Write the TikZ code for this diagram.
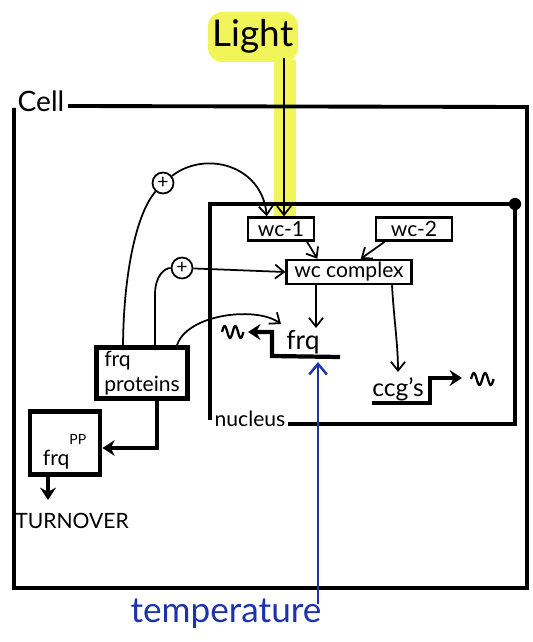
\documentclass[tikz,border=0pt]{standalone}
\usepackage{fontspec}
\setmainfont{Lato}
\usetikzlibrary{arrows.meta,calc}
\definecolor{hilite}{RGB}{242,245,90}
\definecolor{penblue}{RGB}{30,50,170}
\begin{document}
\begin{tikzpicture}[x=0.02cm,y=-0.02cm,
  wall/.style={line width=2.2pt},
  box/.style={draw,line width=1.4pt,inner sep=1pt,font=\fontsize{12}{13}\selectfont},
  thickbox/.style={draw,line width=2.8pt,inner sep=2pt,font=\fontsize{12}{14}\selectfont,align=left},
  pen/.style={line width=1pt},
  arr/.style={-{Straight Barb[length=5pt,width=8pt]},line width=1pt},
  fatarr/.style={-{Stealth[length=7pt,width=9pt]},line width=2.4pt},
  plus/.style={draw,circle,line width=1pt,inner sep=0pt,minimum size=0.42cm,font=\fontsize{11}{11}\selectfont},
  squig/.style={line width=1.3pt},
  lbl/.style={inner sep=1pt}]
\useasboundingbox (0,0) rectangle (533,642);

% Light highlight
\fill[hilite,rounded corners=8pt] (208,12) rectangle (298,62);
\fill[hilite] (274,60) rectangle (296,216);
\node[lbl,font=\fontsize{21}{21}\selectfont] (light) at (253,36) {Light};

% Cell
\node[lbl,font=\fontsize{16}{16}\selectfont] (cell) at (41,101) {Cell};
\draw[wall] (68,106) -- (527,107) -- (527,588) -- (14,588) -- (14,108);

% Nucleus
\node[lbl,font=\fontsize{12}{12}\selectfont] (nuc) at (250,419) {nucleus};
\draw[wall] (288,424) -- (515,424) -- (515,204) -- (210,204) -- (210,420);
\fill (515,204) circle (3.5pt);

% boxes
\node[box,minimum width=1.32cm,minimum height=0.46cm] (wc1) at (281,229) {wc-1};
\node[box,minimum width=1.52cm,minimum height=0.46cm] (wc2) at (414,229) {wc-2};
\node[box,minimum width=2.5cm,minimum height=0.48cm] (wcc) at (349,272) {wc complex};
\node[thickbox,minimum width=1.82cm,minimum height=0.94cm] (fp) at (142,373) {frq\\proteins};
\node[thickbox,minimum width=1.4cm,minimum height=1.26cm,text depth=0pt] (fpp) at (65,443) {\raisebox{-8pt}{frq}\textsuperscript{PP}};
\node[lbl,font=\fontsize{12}{12}\selectfont] (turn) at (72,521) {TURNOVER};

% Light arrow
\coordinate (lightend) at (284,58);
\draw[arr] (lightend) -- (lightend |- wc1.north);

% wc-1, wc-2 to complex
\draw[arr] ($(wc1.south)+(26,0)$) -- ($(wcc.north west)+(32,0)$);
\draw[arr] ($(wc2.south west)+(10,0)$) -- ($(wcc.north east)+(-52,0)$);

% plus paths
\node[plus] (p1) at (163,183) {+};
\node[plus] (p2) at (182,268) {+};
\coordinate (fpA) at (123,350);
\coordinate (fpB) at (155,350);
\coordinate (fpC) at (176,350);
\draw[pen] (fpA) .. controls (123,280) and (135,215) .. (p1);
\draw[arr] (p1) .. controls (205,150) and (262,165) .. ($(wc1.north west)+(20,0)$);
\draw[pen] (fpB) -- (155,295) .. controls (155,275) and (165,268) .. (p2);
\draw[arr] (p2) -- (wcc.west);

% frq gene
\coordinate (frqin) at (281,324);
\draw[arr] (fpC) .. controls (180,315) and (255,305) .. (frqin);
\node[lbl,font=\fontsize{15}{15}\selectfont] (frqt) at (303,342) {frq};
\coordinate (fg1) at (340,357);
\coordinate (fg2) at (272,356);
\coordinate (fg3) at (272,332);
\coordinate (fg4) at (248,332);
\draw[fatarr] (fg1) -- (fg2) -- (fg3) -- (fg4);
\draw[squig] plot[domain=0:4*pi,samples=50] ({222+\x*1.7},{332-6*sin(\x r)});
\draw[arr] (wcc.south -| 316,0) -- (316,328);

% ccg's
\node[lbl,font=\fontsize{14}{14}\selectfont] (ccg) at (398,389) {ccg's};
\coordinate (cg1) at (372,403);
\coordinate (cg2) at (430,403);
\coordinate (cg3) at (430,378);
\coordinate (cg4) at (462,378);
\draw[fatarr] (cg1) -- (cg2) -- (cg3) -- (cg4);
\draw[squig] plot[domain=0:4*pi,samples=50] ({471+\x*1.8},{379-6*sin(\x r)});
\draw[arr] (wcc.south -| 392,0) .. controls (394,320) and (398,345) .. (398,372);

% frq proteins to frqPP, turnover
\coordinate (fpD) at (157,397);
\draw[fatarr] (fp.south -| fpD) |- (fpp.east |- 0,448);
\draw[fatarr] (fpp.south -| 48,0) -- (48,500);

% temperature
\node[lbl,text=penblue,font=\fontsize{20}{20}\selectfont] (temp) at (226,614) {temperature};
\coordinate (tb) at (318,604);
\draw[-{Straight Barb[length=6pt,width=10pt]},line width=1.4pt,penblue] (tb) -- (318,362);
\end{tikzpicture}
\end{document}
